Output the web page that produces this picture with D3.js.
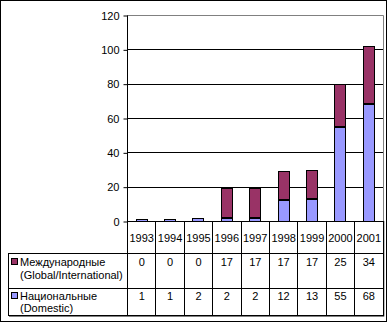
<!DOCTYPE html>
<html><head><meta charset="utf-8">
<script src="https://cdn.jsdelivr.net/npm/d3@7"></script>
<style>
html,body{margin:0;padding:0;background:#fff;}
svg{display:block;}
text{font-family:"Liberation Sans",Arial,sans-serif;font-size:11px;fill:#000;}
</style></head><body>
<script>
const years = ["1993","1994","1995","1996","1997","1998","1999","2000","2001"];
const international = [0,0,0,17,17,17,17,25,34];
const domestic = [1,1,2,2,2,12,13,55,68];
const seriesLabels = [["Международные","(Global/International)"],["Национальные","(Domestic)"]];
const seriesColors = ["#993366","#9999FF"];
const yTicks = [0,20,40,60,80,100,120];

const W = 388, H = 323;
const svg = d3.select("body").append("svg").attr("width",W).attr("height",H);

// outer frame
svg.append("rect").attr("x",0.5).attr("y",0.5).attr("width",386).attr("height",321)
  .attr("fill","#fff").attr("stroke","#000");

const plotL = 127, plotR = 382.5, plotT = 15, plotB = 221;
const x = d3.scaleBand().domain(years).range([plotL, plotR]);
const y = d3.scaleLinear().domain([0,120]).range([plotB, plotT]);

// plot border (gray top/right)
svg.append("path").attr("d",`M${plotL},${plotT+0.5}H${plotR+1}V${plotB}`)
  .attr("fill","none").attr("stroke","#808080");

// gridlines
svg.append("g").selectAll("line").data(yTicks.filter(t=>t>0 && t<120)).join("line")
  .attr("x1",plotL).attr("x2",plotR+0.5)
  .attr("y1",d=>Math.round(y(d))+0.5).attr("y2",d=>Math.round(y(d))+0.5)
  .attr("stroke","#000");

// y axis
const yAxis = d3.axisLeft(y).tickValues(yTicks).tickSize(4).tickPadding(4).tickFormat(d3.format("d"));
const gy = svg.append("g").attr("transform",`translate(${plotL+0.5},0.5)`).call(yAxis);
gy.select(".domain").attr("d",`M0,${plotT}V${plotB}`).attr("stroke","#000");
gy.selectAll(".tick line").attr("stroke","#000");
gy.selectAll(".tick text").style("font-family","Liberation Sans, Arial, sans-serif").style("font-size","11px").attr("fill","#000");

// stacked bars
const rows = years.map((yr,i)=>({year:yr, domestic:domestic[i], international:international[i]}));
const stack = d3.stack().keys(["domestic","international"])(rows);
const barW = 11;
const colorByKey = {domestic:seriesColors[1], international:seriesColors[0]};
stack.forEach(layer=>{
  const extra = layer.key === "international" ? -1 : 0;
  svg.append("g").selectAll("rect").data(layer.filter(d=>d[1]-d[0]>0)).join("rect")
    .attr("x",d=>Math.round(x(d.data.year)+x.bandwidth()/2-barW/2)+0.5)
    .attr("width",barW)
    .attr("y",d=>Math.round(y(d[1]))+0.5)
    .attr("height",d=>Math.max(0,Math.round(y(d[0]))-Math.round(y(d[1]))+extra))
    .attr("fill",colorByKey[layer.key])
    .attr("stroke","#000");
});

// data table
const tblL = 8, rowTops = [plotB, 253, 288, 315];
const T = svg.append("g");
// shadow lines
T.append("path").attr("d",`M${plotR+1.5},${plotB}V${rowTops[3]+1.5}H${tblL+1}`)
  .attr("fill","none").attr("stroke","#808080");
// horizontal lines
T.append("line").attr("x1",plotL).attr("x2",plotR+0.5).attr("y1",plotB+0.5).attr("y2",plotB+0.5).attr("stroke","#000");
[rowTops[1],rowTops[2],rowTops[3]].forEach(yy=>{
  T.append("line").attr("x1",tblL).attr("x2",plotR+0.5).attr("y1",yy+0.5).attr("y2",yy+0.5).attr("stroke","#000");
});
// vertical lines
T.append("line").attr("x1",tblL+0.5).attr("x2",tblL+0.5).attr("y1",rowTops[1]).attr("y2",rowTops[3]+1).attr("stroke","#000");
const colEdges = years.map(d=>x(d)).concat([plotR]);
T.selectAll("line.col").data(colEdges).join("line").attr("class","col")
  .attr("x1",d=>Math.round(d)+0.5).attr("x2",d=>Math.round(d)+0.5)
  .attr("y1",plotB).attr("y2",rowTops[3]+1).attr("stroke","#000");

// year labels
T.selectAll("text.yr").data(years).join("text").attr("class","yr")
  .attr("x",d=>x(d)+x.bandwidth()/2+0.5).attr("y",242).attr("text-anchor","middle").text(d=>d);

// values
const tableSeries = [international, domestic];
const valueBaselines = [266, 300];
tableSeries.forEach((vals,si)=>{
  T.selectAll(`text.v${si}`).data(vals).join("text").attr("class",`v${si}`)
    .attr("x",(d,i)=>x(years[i])+x.bandwidth()/2+0.5).attr("y",valueBaselines[si])
    .attr("text-anchor","middle").text(d=>d);
});

// legend labels with swatches
const labelBaselines = [[266,279],[300,312]];
seriesLabels.forEach((lines,si)=>{
  T.append("rect").attr("x",11.5).attr("y",labelBaselines[si][0]-7.5).attr("width",6).attr("height",6)
    .attr("fill",seriesColors[si]).attr("stroke","#000");
  lines.forEach((ln,li)=>{
    T.append("text").attr("x",20).attr("y",labelBaselines[si][li]).text(ln);
  });
});
</script>
</body></html>
